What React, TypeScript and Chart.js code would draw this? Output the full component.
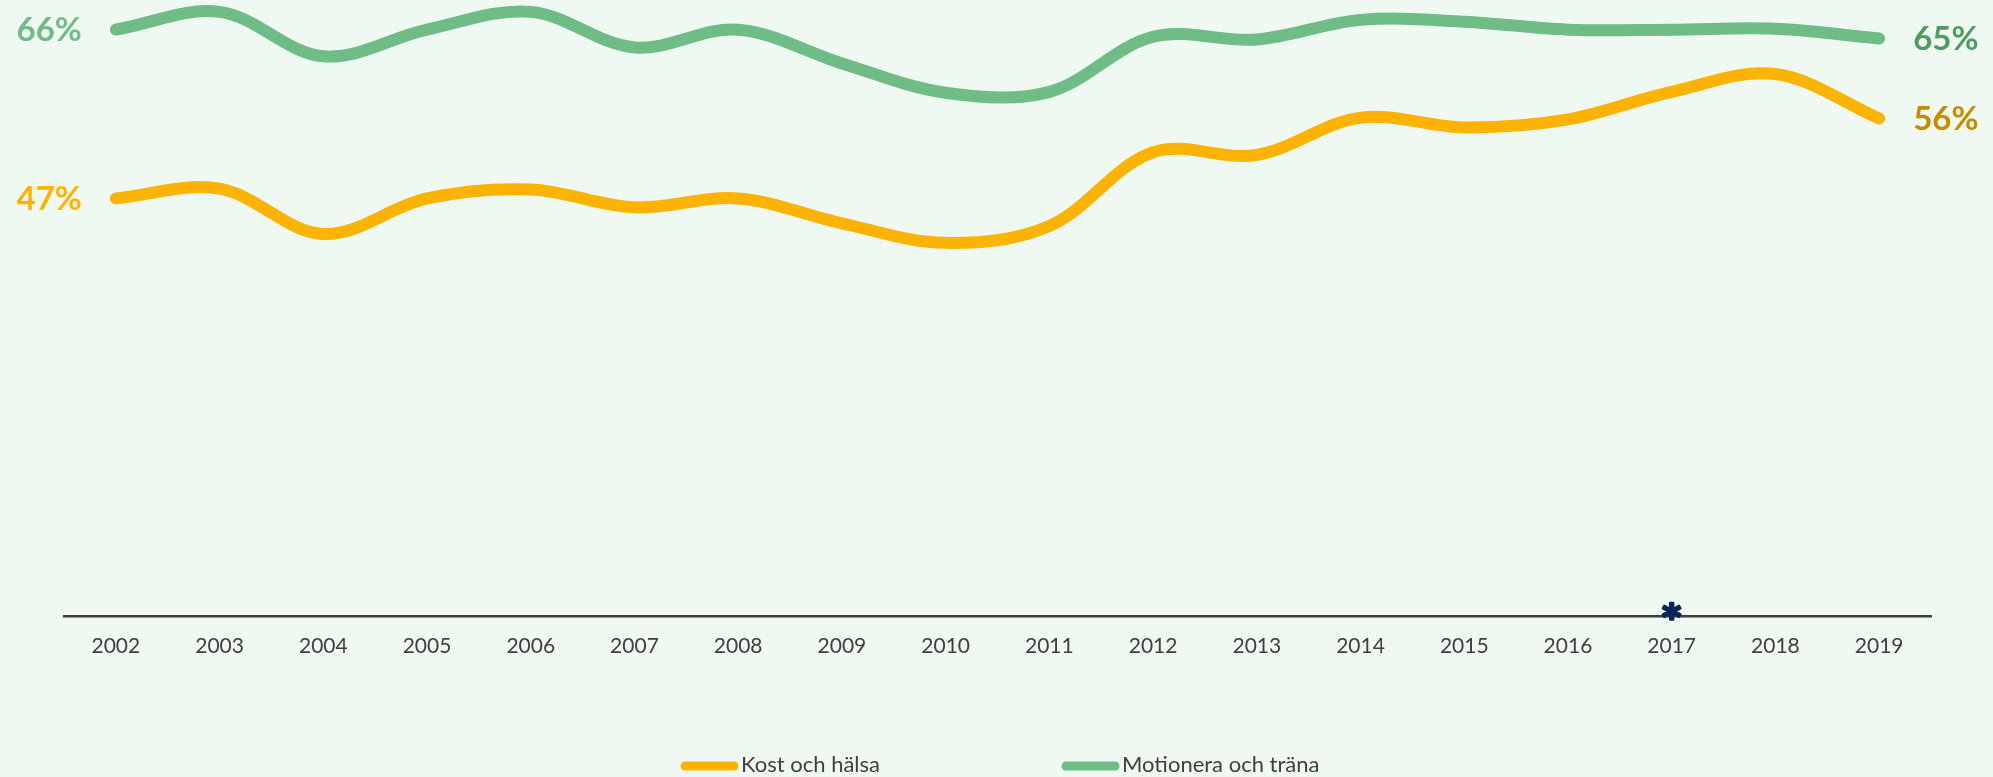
import React, { useEffect, useRef } from "react";
import { Chart, registerables } from "chart.js";

Chart.register(...registerables);

const years = [
  "2002", "2003", "2004", "2005", "2006", "2007", "2008", "2009", "2010",
  "2011", "2012", "2013", "2014", "2015", "2016", "2017", "2018", "2019",
];
const kostOchHalsa = [47.0, 48.1, 43.0, 47.0, 48.0, 46.0, 47.0, 44.2, 42.0, 43.9, 52.2, 51.9, 56.1, 55.0, 55.9, 59.0, 61.0, 56.0];
const motioneraOchTrana = [66.0, 68.0, 63.0, 66.0, 68.0, 64.0, 66.0, 62.2, 58.9, 59.0, 65.2, 64.9, 67.1, 66.9, 66.0, 66.0, 66.1, 65.0];
const seriesNames = ["Kost och hälsa", "Motionera och träna"];
const markedYears = ["2017"];
const markerSymbol = "*";

const BG = "#EFF9F1";
const YELLOW = "#FDB304";
const GREEN = "#70BC86";
const TEXT = "#404040";
const FONT = "Lato, 'Open Sans', sans-serif";

const endLabelsPlugin = {
  id: "endLabels",
  afterDatasetsDraw(chart: any) {
    const ctx = chart.ctx;
    ctx.save();
    ctx.font = `bold 33px ${FONT}`;
    ctx.textBaseline = "middle";
    chart.data.datasets.forEach((ds: any, i: number) => {
      const meta = chart.getDatasetMeta(i);
      const pts = meta.data;
      if (!pts.length) return;
      const first = pts[0];
      const last = pts[pts.length - 1];
      const v0 = ds.data[0];
      const v1 = ds.data[ds.data.length - 1];
      ctx.fillStyle = ds.startLabelColor;
      ctx.textAlign = "right";
      ctx.fillText(`${Math.round(v0)}%`, first.x - 34, first.y + 1);
      ctx.fillStyle = ds.endLabelColor;
      ctx.textAlign = "left";
      ctx.fillText(`${Math.round(v1)}%`, last.x + 34, last.y + 1);
    });
    ctx.restore();
  },
};

const markerPlugin = {
  id: "marker",
  afterDraw(chart: any) {
    const ctx = chart.ctx;
    const xs = chart.scales.x;
    const mFont = "'DejaVu Sans', sans-serif";
    ctx.save();
    ctx.fillStyle = "#0B2357";
    ctx.strokeStyle = "#0B2357";
    ctx.lineWidth = 2.5;
    ctx.lineJoin = "round";
    ctx.textAlign = "center";
    ctx.textBaseline = "alphabetic";
    ctx.font = `bold 40px ${mFont}`;
    const m = ctx.measureText(markerSymbol);
    const h = (m.actualBoundingBoxAscent || 20) + (m.actualBoundingBoxDescent || 0);
    const size = 40 * (18 / h);
    ctx.font = `bold ${size}px ${mFont}`;
    const m2 = ctx.measureText(markerSymbol);
    const asc = m2.actualBoundingBoxAscent;
    const desc = m2.actualBoundingBoxDescent;
    const targetCenter = chart.chartArea.bottom - 5;
    const baseY = targetCenter + (asc - desc) / 2;
    markedYears.forEach((yr) => {
      const idx = years.indexOf(yr);
      if (idx < 0) return;
      const x = xs.getPixelForValue(idx);
      ctx.fillText(markerSymbol, x, baseY);
      ctx.strokeText(markerSymbol, x, baseY);
    });
    ctx.restore();
  },
};

const legendPlugin = {
  id: "customLegend",
  afterDraw(chart: any) {
    const ctx = chart.ctx;
    const { left, right } = chart.chartArea;
    const center = (left + right) / 2;
    const step = 381;
    const y = 766;
    ctx.save();
    ctx.font = `22px ${FONT}`;
    ctx.textBaseline = "middle";
    ctx.textAlign = "left";
    chart.data.datasets.forEach((ds: any, i: number) => {
      const x0 = center - 317.5 + i * step;
      ctx.strokeStyle = ds.borderColor;
      ctx.lineWidth = 9;
      ctx.lineCap = "round";
      ctx.beginPath();
      ctx.moveTo(x0 + 5, y);
      ctx.lineTo(x0 + 54, y);
      ctx.stroke();
      ctx.fillStyle = TEXT;
      ctx.fillText(ds.label, x0 + 61, y - 1);
    });
    ctx.restore();
  },
};

export default function App() {
  const canvasRef = useRef<HTMLCanvasElement | null>(null);

  useEffect(() => {
    document.body.style.margin = "0";
    const canvas = canvasRef.current;
    if (!canvas) return;
    const chart = new Chart(canvas, {
      type: "line",
      data: {
        labels: years,
        datasets: [
          {
            label: seriesNames[0],
            data: kostOchHalsa,
            borderColor: YELLOW,
            backgroundColor: YELLOW,
            borderWidth: 12,
            tension: 0.35,
            pointRadius: 0,
            borderCapStyle: "round",
            borderJoinStyle: "round",
            fill: false,
            clip: false,
            startLabelColor: YELLOW,
            endLabelColor: "#C68B00",
          } as any,
          {
            label: seriesNames[1],
            data: motioneraOchTrana,
            borderColor: GREEN,
            backgroundColor: GREEN,
            borderWidth: 12,
            tension: 0.35,
            pointRadius: 0,
            borderCapStyle: "round",
            borderJoinStyle: "round",
            fill: false,
            clip: false,
            startLabelColor: GREEN,
            endLabelColor: "#4E9C5F",
          } as any,
        ],
      },
      options: {
        responsive: false,
        animation: false,
        devicePixelRatio: 1,
        layout: { padding: { top: 3, left: 64, right: 62, bottom: 0 } },
        plugins: {
          legend: { display: false },
          tooltip: { enabled: false },
        },
        scales: {
          x: {
            type: "category",
            offset: true,
            grid: { display: false, drawTicks: false },
            border: { display: true, color: "#3F3F3F", width: 2.5 },
            ticks: {
              color: TEXT,
              font: { family: FONT, size: 21 },
              padding: 18,
              maxRotation: 0,
              autoSkip: false,
            },
            afterFit: (s: any) => {
              s.height = 161;
            },
          },
          y: { display: false, min: 0, max: 69 },
        },
      },
      plugins: [endLabelsPlugin, markerPlugin, legendPlugin],
    });
    return () => chart.destroy();
  }, []);

  return (
    <div style={{ position: "fixed", left: 0, top: 0, width: 1993, height: 777, background: BG }}>
      <canvas ref={canvasRef} width={1993} height={777} style={{ display: "block" }} />
    </div>
  );
}
